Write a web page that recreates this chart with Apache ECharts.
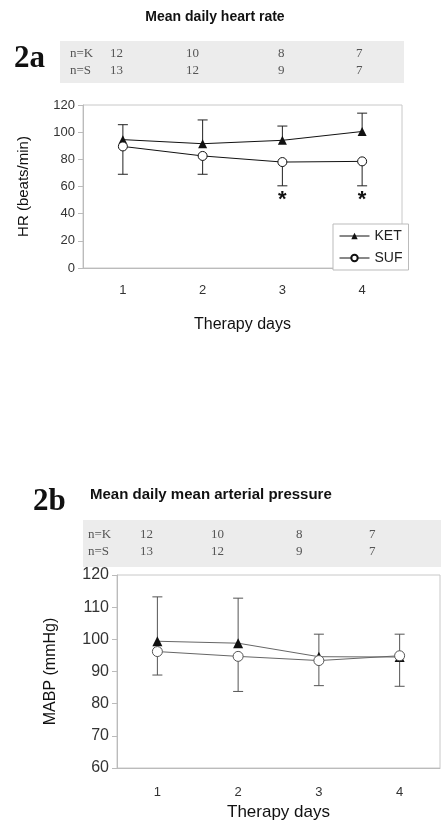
<!DOCTYPE html>
<html>
<head>
<meta charset="utf-8">
<script src="https://cdn.jsdelivr.net/npm/echarts@6/dist/echarts.min.js"></script>
<style>
  html, body { margin: 0; padding: 0; background: #fff; }
  #main { width: 441px; height: 822px; }
</style>
</head>
<body>
<div id="main"></div>
<script>
// days on the x axis
var days = ['1', '2', '3', '4'];
// number of patients per day
var nKet = [12, 10, 8, 7];
var nSuf = [13, 12, 9, 7];

// 2a heart rate (beats/min)
var hrKet = [94.5, 91.5, 94, 100.5];
var hrKetUpper = [105.5, 109, 104.5, 114];
var hrSuf = [89.5, 82.5, 78, 78.5];
var hrSufLower = [69, 69, 60.5, 60.5];
var hrStarDays = [2, 3];   // index of day 3 and 4
var hrStarLevel = 50;

// 2b mean arterial pressure (mmHg)
var mapKet = [99.4, 98.8, 94.6, 94.5];
var mapKetUpper = [113.2, 112.8, 101.6, 101.6];
var mapSuf = [96.2, 94.7, 93.4, 94.9];
var mapSufLower = [88.9, 83.8, 85.6, 85.4];

var sans = 'Liberation Sans';
var serif = 'Liberation Serif';

var chart = echarts.init(document.getElementById('main'));

function errData(mean, end) {
  return mean.map(function (v, i) { return [i, v, end[i]]; });
}

function errRender(color) {
  return function (params, api) {
    var p = api.coord([api.value(0), api.value(1)]);
    var q = api.coord([api.value(0), api.value(2)]);
    var st = { stroke: color, lineWidth: 1 };
    return {
      type: 'group',
      children: [
        { type: 'line', shape: { x1: p[0], y1: p[1], x2: q[0], y2: q[1] }, style: st },
        { type: 'line', shape: { x1: q[0] - 5, y1: q[1], x2: q[0] + 5, y2: q[1] }, style: st }
      ]
    };
  };
}

// n= tables drawn as text over a grey band
function tableGraphics(x0, y0, w, h, colX, rowY) {
  var g = [{
    type: 'rect', left: x0, top: y0, shape: { width: w, height: h },
    style: { fill: '#ececec' }, silent: true
  }];
  var rows = [['n=K'].concat(nKet), ['n=S'].concat(nSuf)];
  rows.forEach(function (row, r) {
    row.forEach(function (t, c) {
      g.push({
        type: 'text', x: colX[c], y: rowY[r],
        style: { text: String(t), font: '13px ' + serif, fill: '#555', verticalAlign: 'middle' }
      });
    });
  });
  return g;
}

var graphics = [
  { type: 'text', x: 215, y: 17, style: { text: 'Mean daily heart rate', font: 'bold 14px ' + sans, fill: '#111', align: 'center', verticalAlign: 'middle' } },
  { type: 'text', x: 14, y: 59, style: { text: '2a', font: 'bold 31px ' + serif, fill: '#111', verticalAlign: 'middle' } },
  { type: 'text', x: 90, y: 495, style: { text: 'Mean daily mean arterial pressure', font: 'bold 15px ' + sans, fill: '#111', verticalAlign: 'middle' } },
  { type: 'text', x: 33, y: 502, style: { text: '2b', font: 'bold 31px ' + serif, fill: '#111', verticalAlign: 'middle' } }
]
  .concat(tableGraphics(60, 41, 344, 42, [70, 110, 186, 278, 356], [54, 71]))
  .concat(tableGraphics(83, 520, 358, 47, [88, 140, 211, 296, 369], [535, 552]));

function xAxisCfg(grid, gap, margin) {
  return {
    type: 'category', gridIndex: grid, data: days, boundaryGap: true,
    name: 'Therapy days', nameLocation: 'middle', nameGap: gap,
    nameTextStyle: { fontFamily: sans, fontSize: grid === 0 ? 16 : 17, color: '#111' },
    axisLine: { lineStyle: { color: '#bbb' } },
    axisTick: { show: false },
    axisLabel: { fontFamily: sans, fontSize: 13, color: '#333', margin: margin },
    splitLine: { show: false }
  };
}

function yAxisCfg(grid, min, max, step, name, gap, fs) {
  return {
    type: 'value', gridIndex: grid, min: min, max: max, interval: step,
    name: name, nameLocation: 'middle', nameGap: gap,
    nameTextStyle: { fontFamily: sans, fontSize: grid === 0 ? 15 : 16, color: '#111' },
    axisLine: { show: true, lineStyle: { color: '#bbb' } },
    axisTick: { show: true, length: 5, lineStyle: { color: '#bbb' } },
    axisLabel: { fontFamily: sans, fontSize: fs, color: '#333', margin: 8 },
    splitLine: { show: false }
  };
}

chart.setOption({
  animation: false,
  backgroundColor: '#fff',
  graphic: graphics,
  grid: [
    { left: 83, top: 105, width: 319, height: 163, show: true, borderColor: '#c8c8c8', borderWidth: 1 },
    { left: 117, top: 575, width: 323, height: 201, show: true, borderColor: '#c8c8c8', borderWidth: 1 }
  ],
  xAxis: [xAxisCfg(0, 49, 16), xAxisCfg(1, 36, 18)],
  yAxis: [
    yAxisCfg(0, 0, 120, 20, 'HR (beats/min)', 52, 13),
    yAxisCfg(1, 60, 120, 10, 'MABP (mmHg)', 58, 16)
  ],
  legend: {
    data: ['KET', 'SUF'],
    orient: 'vertical',
    left: 333, top: 224,
    padding: [5, 6, 5, 6],
    itemGap: 8,
    itemWidth: 30, itemHeight: 8,
    lineStyle: { width: 1 },
    backgroundColor: '#fff',
    borderColor: '#bbb', borderWidth: 1,
    textStyle: { fontFamily: sans, fontSize: 14, color: '#222' }
  },
  series: [
    { type: 'custom', name: 'KET err', xAxisIndex: 0, yAxisIndex: 0, renderItem: errRender('#222'), data: errData(hrKet, hrKetUpper), z: 1 },
    { type: 'custom', name: 'SUF err', xAxisIndex: 0, yAxisIndex: 0, renderItem: errRender('#222'), data: errData(hrSuf, hrSufLower), z: 1 },
    {
      type: 'line', name: 'KET', xAxisIndex: 0, yAxisIndex: 0, data: hrKet,
      symbol: 'triangle', symbolSize: 9,
      lineStyle: { color: '#111', width: 1 }, itemStyle: { color: '#111' }, z: 3
    },
    {
      type: 'line', name: 'SUF', xAxisIndex: 0, yAxisIndex: 0, data: hrSuf,
      symbol: 'circle', symbolSize: 9,
      lineStyle: { color: '#111', width: 1 }, itemStyle: { color: '#fff', borderColor: '#111', borderWidth: 1 }, z: 4
    },
    {
      type: 'custom', name: 'stars', xAxisIndex: 0, yAxisIndex: 0,
      data: hrStarDays.map(function (d) { return [d, hrStarLevel]; }),
      renderItem: function (params, api) {
        var p = api.coord([api.value(0), api.value(1)]);
        return { type: 'text', x: p[0], y: p[1], style: { text: '*', font: 'bold 22px ' + sans, fill: '#111', align: 'center', verticalAlign: 'middle' } };
      }
    },
    { type: 'custom', name: 'KET2 err', xAxisIndex: 1, yAxisIndex: 1, renderItem: errRender('#555'), data: errData(mapKet, mapKetUpper), z: 1 },
    { type: 'custom', name: 'SUF2 err', xAxisIndex: 1, yAxisIndex: 1, renderItem: errRender('#555'), data: errData(mapSuf, mapSufLower), z: 1 },
    {
      type: 'line', name: 'KET (MABP)', xAxisIndex: 1, yAxisIndex: 1, data: mapKet,
      symbol: 'triangle', symbolSize: 10,
      lineStyle: { color: '#666', width: 1 }, itemStyle: { color: '#111' }, z: 3
    },
    {
      type: 'line', name: 'SUF (MABP)', xAxisIndex: 1, yAxisIndex: 1, data: mapSuf,
      symbol: 'circle', symbolSize: 10,
      lineStyle: { color: '#666', width: 1 }, itemStyle: { color: '#fff', borderColor: '#555', borderWidth: 1 }, z: 4
    }
  ]
});
</script>
</body>
</html>
